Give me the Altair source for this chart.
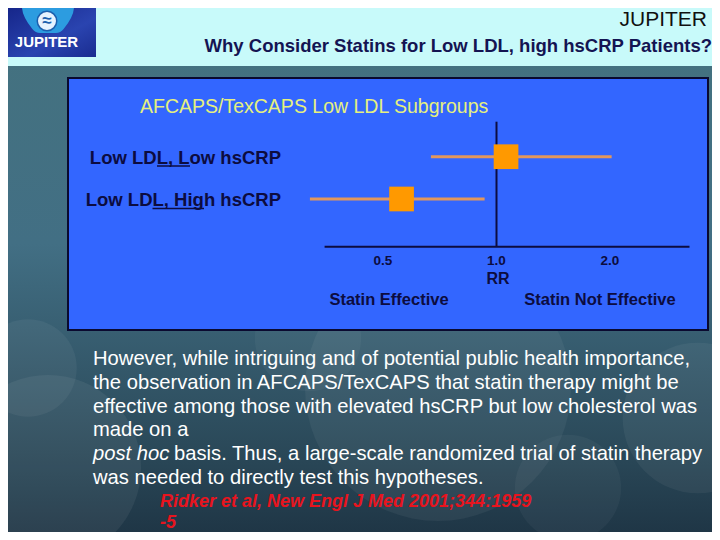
import altair as alt
import pandas as pd

# ---------------- data ----------------
groups = ["Low LDL, Low hsCRP", "Low LDL, High hsCRP"]
rr = [1.06, 0.56]
ci_low = [0.67, 0.32]
ci_high = [2.02, 0.93]
tick_values = [0.5, 1.0, 2.0]
tick_labels = ["0.5", "1.0", "2.0"]
axis_start = [0.35]
axis_end = [3.25]
ref_value = [1.0]

header_right = "JUPITER"
logo_text = "JUPITER"
subtitle = "Why Consider Statins for Low LDL, high hsCRP Patients?"
panel_title = "AFCAPS/TexCAPS Low LDL Subgroups"
axis_title = "RR"
side_left = "Statin Effective"
side_right = "Statin Not Effective"
body_lines = [
    "However, while intriguing and of potential public health importance,",
    "the observation in AFCAPS/TexCAPS that statin therapy might be",
    "effective among those with elevated hsCRP but low cholesterol was",
    "made on a",
    "basis. Thus, a large-scale randomized trial of statin therapy",
    "was needed to directly test this hypotheses.",
]
italic_lead = "post hoc"
italic_line = 4
citation_lines = ["Ridker et al, New Engl J Med 2001;344:1959", "-5"]

FONT = "Liberation Sans"
NAVY = "#0c0c40"

forest = pd.DataFrame({"group": groups, "rr": rr, "lo": ci_low, "hi": ci_high})
ticks = pd.DataFrame({"tick": tick_values, "label": tick_labels})
axis_df = pd.DataFrame({"a": axis_start, "b": axis_end})
ref_df = pd.DataFrame({"v": ref_value})
body_df = pd.DataFrame({"i": list(range(len(body_lines))), "text": body_lines})
normal_df = body_df[body_df["i"] != italic_line]
rest_df = body_df[body_df["i"] == italic_line]
lead_df = pd.DataFrame({"i": [italic_line], "text": [italic_lead]})
cite_df = pd.DataFrame({"i": list(range(len(citation_lines))), "text": citation_lines})
dummy = pd.DataFrame({"k": [0]})

xs = alt.Scale(type="log", domain=[0.5, 2.0], range=[375, 602], nice=False)
ys = alt.Scale(type="point", domain=groups, range=[148.7, 191], padding=0)
body_y = alt.Scale(domain=[0, 5], range=[351, 470], nice=False, zero=False)
cite_y = alt.Scale(domain=[0, 1], range=[494, 515], nice=False, zero=False)


def deco():
    return alt.Chart(dummy)


def box(x, x2, y, y2, **kw):
    return deco().mark_rect(**kw).encode(
        x=alt.value(x), x2=alt.value(x2), y=alt.value(y), y2=alt.value(y2)
    )


def hline(x, x2, y, **kw):
    return deco().mark_rule(**kw).encode(x=alt.value(x), x2=alt.value(x2), y=alt.value(y))


def disc(x, y, r, **kw):
    return deco().mark_circle(size=3.14159 * r * r, **kw).encode(
        x=alt.value(x), y=alt.value(y)
    )


def label(text, x, y, **kw):
    return deco().mark_text(text=text, font=FONT, baseline="middle", **kw).encode(
        x=alt.value(x), y=alt.value(y)
    )


bg_grad = alt.LinearGradient(
    gradient="linear",
    stops=[
        alt.GradientStop(color="#44727f", offset=0),
        alt.GradientStop(color="#426f84", offset=0.45),
        alt.GradientStop(color="#2a4858", offset=0.85),
        alt.GradientStop(color="#1f3646", offset=1),
    ],
    x1=0, x2=0, y1=0, y2=1,
)
logo_grad = alt.LinearGradient(
    gradient="linear",
    stops=[
        alt.GradientStop(color="#16268a", offset=0),
        alt.GradientStop(color="#2a44b0", offset=0.6),
        alt.GradientStop(color="#1a2c90", offset=1),
    ],
    x1=0, x2=1, y1=0, y2=1,
)

layers = [
    box(0, 704, 0, 524, color=bg_grad),
    disc(430, 380, 150, color="#ffffff", opacity=0.05),
    disc(40, 460, 105, color="#ffffff", opacity=0.06),
    disc(20, 360, 55, color="#ffffff", opacity=0.05),
    disc(300, 330, 60, color="#ffffff", opacity=0.04),
    disc(690, 410, 85, color="#ffffff", opacity=0.05),
    disc(560, 480, 60, color="#ffffff", opacity=0.04),
    box(0, 704, 0, 58, color="#c8fafa"),
    box(0, 88, 0, 49, color=logo_grad),
    deco().mark_point(
        shape="M-1,-0.5 L1,-0.5 Q1,-0.15 0.6,0.35 Q0.48,0.5 0.3,0.5 L-0.3,0.5 Q-0.48,0.5 -0.6,0.35 Q-1,-0.15 -1,-0.5 Z",
        filled=True, size=2704, color="#2c9ce0", opacity=1,
    ).encode(x=alt.value(40), y=alt.value(12)),
    disc(39, 13, 11, color="#e6f2ff", opacity=1, stroke="#1b5fae", strokeWidth=1.5),
    label("≈", 39, 13, align="center", fontSize=17, color="#1b5fae", fontWeight="bold"),
    label(logo_text, 38.5, 33.5, align="center", fontSize=15, fontWeight="bold", color="#ffffff"),
    label(header_right, 699, 12, align="right", fontSize=21, color="#101010"),
    label(subtitle, 704, 38, align="right", fontSize=18.5, fontWeight="bold", color="#141452"),
    box(60, 700, 70, 322, color="#3366ff", stroke="#0a0a30", strokeWidth=2),
    label(panel_title, 132, 99, align="left", fontSize=19.5, color="#e6f07e"),
    alt.Chart(ref_df).mark_rule(color=NAVY, strokeWidth=2).encode(
        x=alt.X("v:Q", scale=xs, axis=None), y=alt.value(113.7), y2=alt.value(238.7)
    ),
    alt.Chart(axis_df).mark_rule(color=NAVY, strokeWidth=2).encode(
        x=alt.X("a:Q", scale=xs, axis=None), x2="b:Q", y=alt.value(238.7)
    ),
    alt.Chart(forest).mark_rule(color="#e3975c", strokeWidth=3).encode(
        x=alt.X("lo:Q", scale=xs, axis=None), x2="hi:Q",
        y=alt.Y("group:N", scale=ys, axis=None),
    ),
    alt.Chart(forest).mark_square(size=610, color="#ff9900", opacity=1, filled=True).encode(
        x=alt.X("rr:Q", scale=xs, axis=None),
        y=alt.Y("group:N", scale=ys, axis=None),
    ),
    alt.Chart(forest).mark_text(
        align="right", baseline="middle", font=FONT, fontSize=18.5,
        fontWeight="bold", color=NAVY, dy=1,
    ).encode(x=alt.value(273), y=alt.Y("group:N", scale=ys, axis=None), text="group:N"),
    # underlines inside the two group labels
    hline(149, 182, 158, color=NAVY, strokeWidth=1.5),
    hline(144.5, 196, 200.5, color=NAVY, strokeWidth=1.5),
    alt.Chart(ticks).mark_text(
        align="center", baseline="middle", font=FONT, fontSize=13.5,
        fontWeight="bold", color=NAVY,
    ).encode(x=alt.X("tick:Q", scale=xs, axis=None), y=alt.value(253), text="label:N"),
    label(axis_title, 490, 271, align="center", fontSize=16, fontWeight="bold", color=NAVY),
    label(side_left, 381, 292, align="center", fontSize=16.5, fontWeight="bold", color=NAVY),
    label(side_right, 592, 292, align="center", fontSize=16.5, fontWeight="bold", color=NAVY),
    alt.Chart(normal_df).mark_text(
        align="left", baseline="middle", font=FONT, fontSize=20.2, color="#ffffff"
    ).encode(x=alt.value(85), y=alt.Y("i:Q", scale=body_y, axis=None), text="text:N"),
    alt.Chart(lead_df).mark_text(
        align="left", baseline="middle", font=FONT, fontSize=20.2, fontStyle="italic", color="#ffffff"
    ).encode(x=alt.value(85), y=alt.Y("i:Q", scale=body_y, axis=None), text="text:N"),
    alt.Chart(rest_df).mark_text(
        align="left", baseline="middle", font=FONT, fontSize=20.2, color="#ffffff"
    ).encode(x=alt.value(166), y=alt.Y("i:Q", scale=body_y, axis=None), text="text:N"),
    alt.Chart(cite_df).mark_text(
        align="left", baseline="middle", font=FONT, fontSize=18, fontStyle="italic",
        fontWeight="bold", color="#e8141e",
    ).encode(x=alt.value(152), y=alt.Y("i:Q", scale=cite_y, axis=None), text="text:N"),
]

chart = (
    alt.layer(*layers)
    .resolve_scale(y="independent")
    .properties(width=704, height=524, autosize=alt.AutoSizeParams(type="none"), padding=0,
                background="#2f5566")
    .configure_view(stroke=None)
)

chart.save("out.html", embed_options={"renderer": "svg", "actions": False})
